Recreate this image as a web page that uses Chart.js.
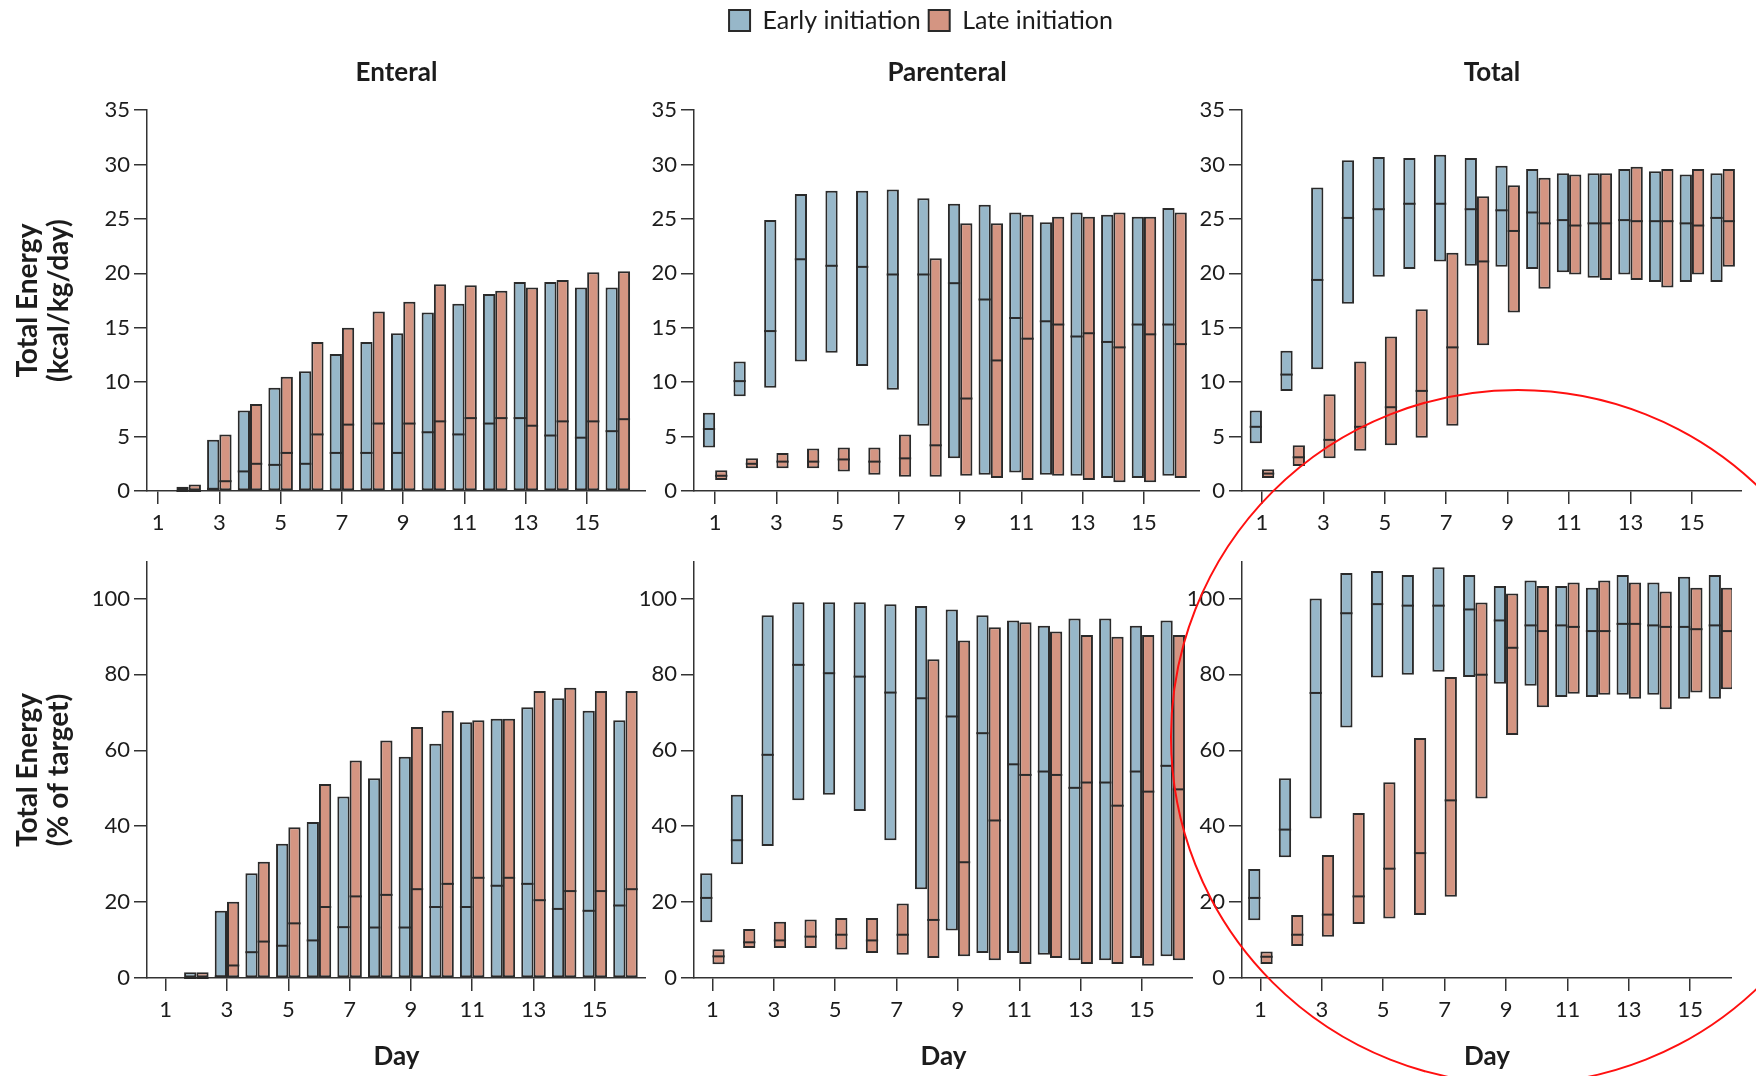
<!DOCTYPE html>
<html>
<head>
<meta charset="utf-8">
<script src="https://cdn.jsdelivr.net/npm/chart.js@4.4.1/dist/chart.umd.min.js"></script>
<style>
  body { margin: 0; background: #fff; }
  #fig { position: relative; width: 1756px; height: 1076px; overflow: hidden; background: #fff; }
  #fig canvas { position: absolute; }
  #circle {
    position: absolute; left: 1170px; top: 389px; width: 696px; height: 696px;
    border: 2px solid #ff1010; border-radius: 50%; box-sizing: border-box; pointer-events: none;
  }
</style>
</head>
<body>
<div id="fig">
  <canvas id="kcalEnteral"></canvas>
  <canvas id="kcalParenteral"></canvas>
  <canvas id="kcalTotal"></canvas>
  <canvas id="pctEnteral"></canvas>
  <canvas id="pctParenteral"></canvas>
  <canvas id="pctTotal"></canvas>
  <div id="circle"></div>
</div>
<script>
// days of ICU stay, labelled every other day
const days = [1, 2, 3, 4, 5, 6, 7, 8, 9, 10, 11, 12, 13, 14, 15, 16];
const dayTicks = [1, 3, 5, 7, 9, 11, 13, 15];
const kcalTicks = [0, 5, 10, 15, 20, 25, 30, 35];
const pctTicks = [0, 20, 40, 60, 80, 100];

// each entry: [lower quartile, median, upper quartile], null = nothing given
const kcalEnteralEarly = [null, [0, 0, 0.4], [0, 0.2, 4.7], [0, 1.8, 7.4], [0, 2.4, 9.5], [0, 2.5, 11.0], [0, 3.5, 12.6], [0, 3.5, 13.7],
  [0, 3.5, 14.5], [0, 5.4, 16.4], [0, 5.2, 17.2], [0, 6.2, 18.1], [0, 6.7, 19.2], [0, 5.1, 19.2], [0, 4.9, 18.7], [0, 5.5, 18.7]];
const kcalEnteralLate = [null, [0, 0, 0.6], [0, 0.9, 5.2], [0, 2.5, 8.0], [0, 3.5, 10.5], [0, 5.2, 13.7], [0, 6.1, 15.0], [0, 6.2, 16.5],
  [0, 6.2, 17.4], [0, 6.4, 19.0], [0, 6.7, 18.9], [0, 6.7, 18.4], [0, 6.0, 18.7], [0, 6.4, 19.4], [0, 6.4, 20.1], [0, 6.6, 20.2]];

const kcalParenteralEarly = [[4.0, 5.7, 7.2], [8.7, 10.1, 11.9], [9.5, 14.7, 24.9], [11.9, 21.3, 27.3], [12.7, 20.7, 27.6], [11.5, 20.6, 27.6],
  [9.3, 19.9, 27.7], [6.0, 19.9, 26.9], [3.0, 19.1, 26.4], [1.5, 17.6, 26.3], [1.7, 15.9, 25.6], [1.5, 15.6, 24.7], [1.4, 14.2, 25.6],
  [1.2, 13.7, 25.4], [1.2, 15.3, 25.2], [1.4, 15.3, 26.0]];
const kcalParenteralLate = [[1.0, 1.4, 1.9], [2.1, 2.5, 3.0], [2.1, 2.7, 3.5], [2.1, 2.7, 3.9], [1.8, 2.9, 4.0], [1.5, 2.7, 4.0],
  [1.3, 3.0, 5.2], [1.3, 4.2, 21.4], [1.4, 8.5, 24.6], [1.2, 12.0, 24.6], [1.0, 14.0, 25.4], [1.4, 15.3, 25.2], [1.0, 14.5, 25.2],
  [0.8, 13.2, 25.6], [0.8, 14.4, 25.2], [1.2, 13.5, 25.6]];

const kcalTotalEarly = [[4.4, 5.9, 7.4], [9.2, 10.7, 12.9], [11.2, 19.4, 27.9], [17.2, 25.1, 30.4], [19.7, 25.9, 30.7], [20.4, 26.4, 30.6],
  [21.1, 26.4, 30.9], [20.7, 25.9, 30.6], [20.6, 25.8, 29.9], [20.4, 25.6, 29.6], [20.1, 24.9, 29.2], [19.6, 24.6, 29.2], [19.9, 24.9, 29.6],
  [19.2, 24.8, 29.4], [19.2, 24.6, 29.1], [19.2, 25.1, 29.2]];
const kcalTotalLate = [[1.2, 1.6, 2.0], [2.3, 3.1, 4.2], [3.0, 4.7, 8.9], [3.7, 5.9, 11.9], [4.2, 7.7, 14.2], [4.9, 9.2, 16.7],
  [6.0, 13.2, 21.9], [13.4, 21.1, 27.1], [16.4, 23.9, 28.1], [18.6, 24.6, 28.8], [19.9, 24.4, 29.1], [19.4, 24.6, 29.2], [19.4, 24.8, 29.8],
  [18.7, 24.8, 29.6], [19.9, 24.4, 29.6], [20.6, 24.8, 29.6]];

const pctEnteralEarly = [null, [0, 0, 1.5], [0, 0.4, 17.7], [0, 6.8, 27.6], [0, 8.5, 35.4], [0, 9.9, 41.1], [0, 13.4, 47.8], [0, 13.3, 52.6],
  [0, 13.3, 58.3], [0, 18.7, 61.7], [0, 18.7, 67.4], [0, 24.3, 68.3], [0, 24.8, 71.3], [0, 18.2, 73.7], [0, 17.7, 70.4], [0, 19.1, 67.9]];
const pctEnteralLate = [null, [0, 0, 1.5], [0, 3.3, 20.1], [0, 9.6, 30.6], [0, 14.4, 39.7], [0, 18.7, 51.1], [0, 21.5, 57.3], [0, 21.9, 62.6],
  [0, 23.4, 66.1], [0, 24.8, 70.4], [0, 26.4, 67.9], [0, 26.4, 68.3], [0, 20.5, 75.6], [0, 22.9, 76.5], [0, 22.9, 75.6], [0, 23.4, 75.6]];

const pctParenteralEarly = [[14.7, 21.1, 27.6], [30.0, 36.3, 48.3], [34.8, 58.8, 95.6], [46.8, 82.5, 99.0], [48.3, 80.3, 99.0], [44.0, 79.4, 99.0],
  [36.3, 75.2, 98.5], [23.4, 73.7, 98.0], [12.5, 68.9, 97.1], [6.6, 64.5, 95.6], [6.6, 56.3, 94.2], [6.1, 54.4, 92.8], [4.7, 50.1, 94.7],
  [4.7, 51.5, 94.7], [5.3, 54.4, 92.8], [5.7, 55.9, 94.2]];
const pctParenteralLate = [[3.6, 5.7, 7.6], [7.9, 9.4, 12.9], [7.9, 9.9, 14.8], [7.9, 10.9, 15.4], [7.5, 11.4, 15.8], [6.6, 9.9, 15.8],
  [6.1, 11.4, 19.6], [5.3, 15.3, 84.0], [5.7, 30.5, 88.9], [4.7, 41.5, 92.4], [3.7, 53.5, 93.7], [5.3, 53.5, 91.3], [3.7, 51.5, 90.4],
  [3.7, 45.4, 89.9], [3.2, 49.1, 90.4], [4.7, 49.7, 90.4]];

const pctTotalEarly = [[15.2, 21.1, 28.7], [31.8, 39.1, 52.6], [42.0, 75.1, 100.0], [66.0, 96.1, 106.7], [79.2, 98.5, 107.2], [79.9, 98.1, 106.2],
  [80.7, 98.1, 108.2], [79.3, 97.1, 106.2], [77.5, 94.2, 103.3], [77.0, 92.9, 104.7], [74.0, 92.9, 103.3], [74.0, 91.4, 102.8],
  [74.6, 93.3, 106.2], [74.6, 92.9, 104.2], [73.6, 92.5, 105.7], [73.6, 92.9, 106.2]];
const pctTotalLate = [[3.7, 5.6, 7.0], [8.4, 11.4, 16.6], [10.9, 16.7, 32.4], [14.2, 21.5, 43.5], [15.7, 28.8, 51.6], [16.6, 32.9, 63.2],
  [21.4, 46.8, 79.3], [47.3, 79.9, 98.9], [64.0, 87.0, 101.3], [71.3, 91.4, 103.3], [74.9, 92.5, 104.2], [74.6, 91.4, 104.7],
  [73.6, 93.3, 104.2], [70.8, 92.5, 101.8], [75.2, 91.9, 102.8], [76.1, 91.4, 102.8]];

const EARLY = '#97b7c9';
const LATE = '#d49582';
const EDGE = '#2a2a2a';
const INK = '#1c1c1c';
const FONT = 'Lato, "Open Sans", sans-serif';

// draw the median as a line across each bar
const medianLines = {
  id: 'medianLines',
  afterDatasetsDraw(chart) {
    const ctx = chart.ctx;
    const y = chart.scales.y;
    chart.data.datasets.forEach((ds, i) => {
      chart.getDatasetMeta(i).data.forEach((bar, j) => {
        const m = ds.medians[j];
        if (m == null) return;
        const py = y.getPixelForValue(m);
        ctx.save();
        ctx.strokeStyle = EDGE;
        ctx.lineWidth = 2;
        ctx.beginPath();
        ctx.moveTo(bar.x - bar.width / 2, py);
        ctx.lineTo(bar.x + bar.width / 2, py);
        ctx.stroke();
        ctx.restore();
      });
    });
  }
};

function series(label, rows, fill) {
  const kept = days.map((d, i) => ({ d, r: rows[i] })).filter(o => o.r);
  return {
    label: label,
    data: kept.map(o => ({ x: o.d, y: [o.r[0], o.r[2]] })),
    medians: kept.map(o => o.r[1]),
    backgroundColor: fill,
    borderColor: EDGE,
    borderWidth: 2,
    borderSkipped: false,
    clip: false,
    categoryPercentage: 0.8,
    barPercentage: 1.0,
  };
}

const panels = [
  { id: 'kcalEnteral', left: 0, top: 0, width: 646, height: 545, yWidth: 147, xMin: 0.64, xMax: 16.92,
    early: kcalEnteralEarly, late: kcalEnteralLate, title: 'Enteral', yTitle: ['Total Energy', '(kcal/kg/day)'] },
  { id: 'kcalParenteral', left: 642, top: 0, width: 558, height: 545, yWidth: 52, xMin: 0.31, xMax: 16.83,
    early: kcalParenteralEarly, late: kcalParenteralLate, title: 'Parenteral', legend: true },
  { id: 'kcalTotal', left: 1160, top: 0, width: 582, height: 545, yWidth: 82, xMin: 0.35, xMax: 16.63,
    early: kcalTotalEarly, late: kcalTotalLate, title: 'Total' },
  { id: 'pctEnteral', left: 0, top: 540, width: 646, height: 536, yWidth: 147, xMin: 0.39, xMax: 16.67,
    early: pctEnteralEarly, late: pctEnteralLate, yTitle: ['Total Energy', '(% of target)'] },
  { id: 'pctParenteral', left: 610, top: 540, width: 583, height: 536, yWidth: 84, xMin: 0.40, xMax: 16.66,
    early: pctParenteralEarly, late: pctParenteralLate },
  { id: 'pctTotal', left: 1160, top: 540, width: 572, height: 536, yWidth: 82, xMin: 0.40, xMax: 16.36,
    early: pctTotalEarly, late: pctTotalLate },
];

panels.forEach(p => {
  const topRow = p.top === 0;
  const canvas = document.getElementById(p.id);
  canvas.width = p.width;
  canvas.height = p.height;
  canvas.style.left = p.left + 'px';
  canvas.style.top = p.top + 'px';

  const axisLine = { color: '#333', width: 1.5 };
  const tickGrid = { drawOnChartArea: false, drawTicks: true, tickLength: 13, color: '#333', lineWidth: 1.5, offset: false };
  const tickFont = { family: FONT, size: 22 };

  new Chart(canvas.getContext('2d'), {
    type: 'bar',
    data: {
      datasets: [
        series('Early initiation', p.early, EARLY),
        series('Late initiation', p.late, LATE),
      ]
    },
    options: {
      responsive: false,
      animation: false,
      events: [],
      layout: { padding: { top: topRow ? (p.legend ? 0 : 43) : 22, left: 0, right: 0, bottom: 0 } },
      plugins: {
        legend: {
          display: !!p.legend,
          position: 'top',
          weight: 3000,
          labels: { boxWidth: 21, boxHeight: 21, padding: 8, color: INK, font: { family: FONT, size: 25 } }
        },
        title: {
          display: !!p.title,
          fullSize: false,
          text: p.title,
          color: INK,
          font: { family: FONT, size: 26, weight: 'bold' },
          padding: { top: 14, bottom: 22 }
        },
        tooltip: { enabled: false }
      },
      scales: {
        x: {
          type: 'linear',
          offset: false,
          min: p.xMin,
          max: p.xMax,
          grid: tickGrid,
          border: axisLine,
          ticks: { padding: 6, color: INK, font: tickFont },
          afterBuildTicks: s => { s.ticks = dayTicks.map(v => ({ value: v })); },
          afterFit: s => { s.height = topRow ? p.height - 491 : p.height - (978 - 540); },
          title: {
            display: !topRow,
            text: 'Day',
            color: INK,
            font: { family: FONT, size: 26, weight: 'bold' },
            padding: { top: 0, bottom: 4 }
          }
        },
        y: {
          min: 0,
          max: topRow ? 35 : 109.6,
          grid: tickGrid,
          border: axisLine,
          ticks: { padding: 4, color: INK, font: tickFont },
          afterBuildTicks: s => { s.ticks = (topRow ? kcalTicks : pctTicks).map(v => ({ value: v })); },
          afterFit: s => { s.width = p.yWidth; },
          title: {
            display: !!p.yTitle,
            text: p.yTitle,
            color: INK,
            font: { family: FONT, size: 28, weight: 'bold', lineHeight: 1.1 },
            padding: { top: 13, bottom: 0 }
          }
        }
      }
    },
    plugins: [medianLines]
  });
});
</script>
</body>
</html>
